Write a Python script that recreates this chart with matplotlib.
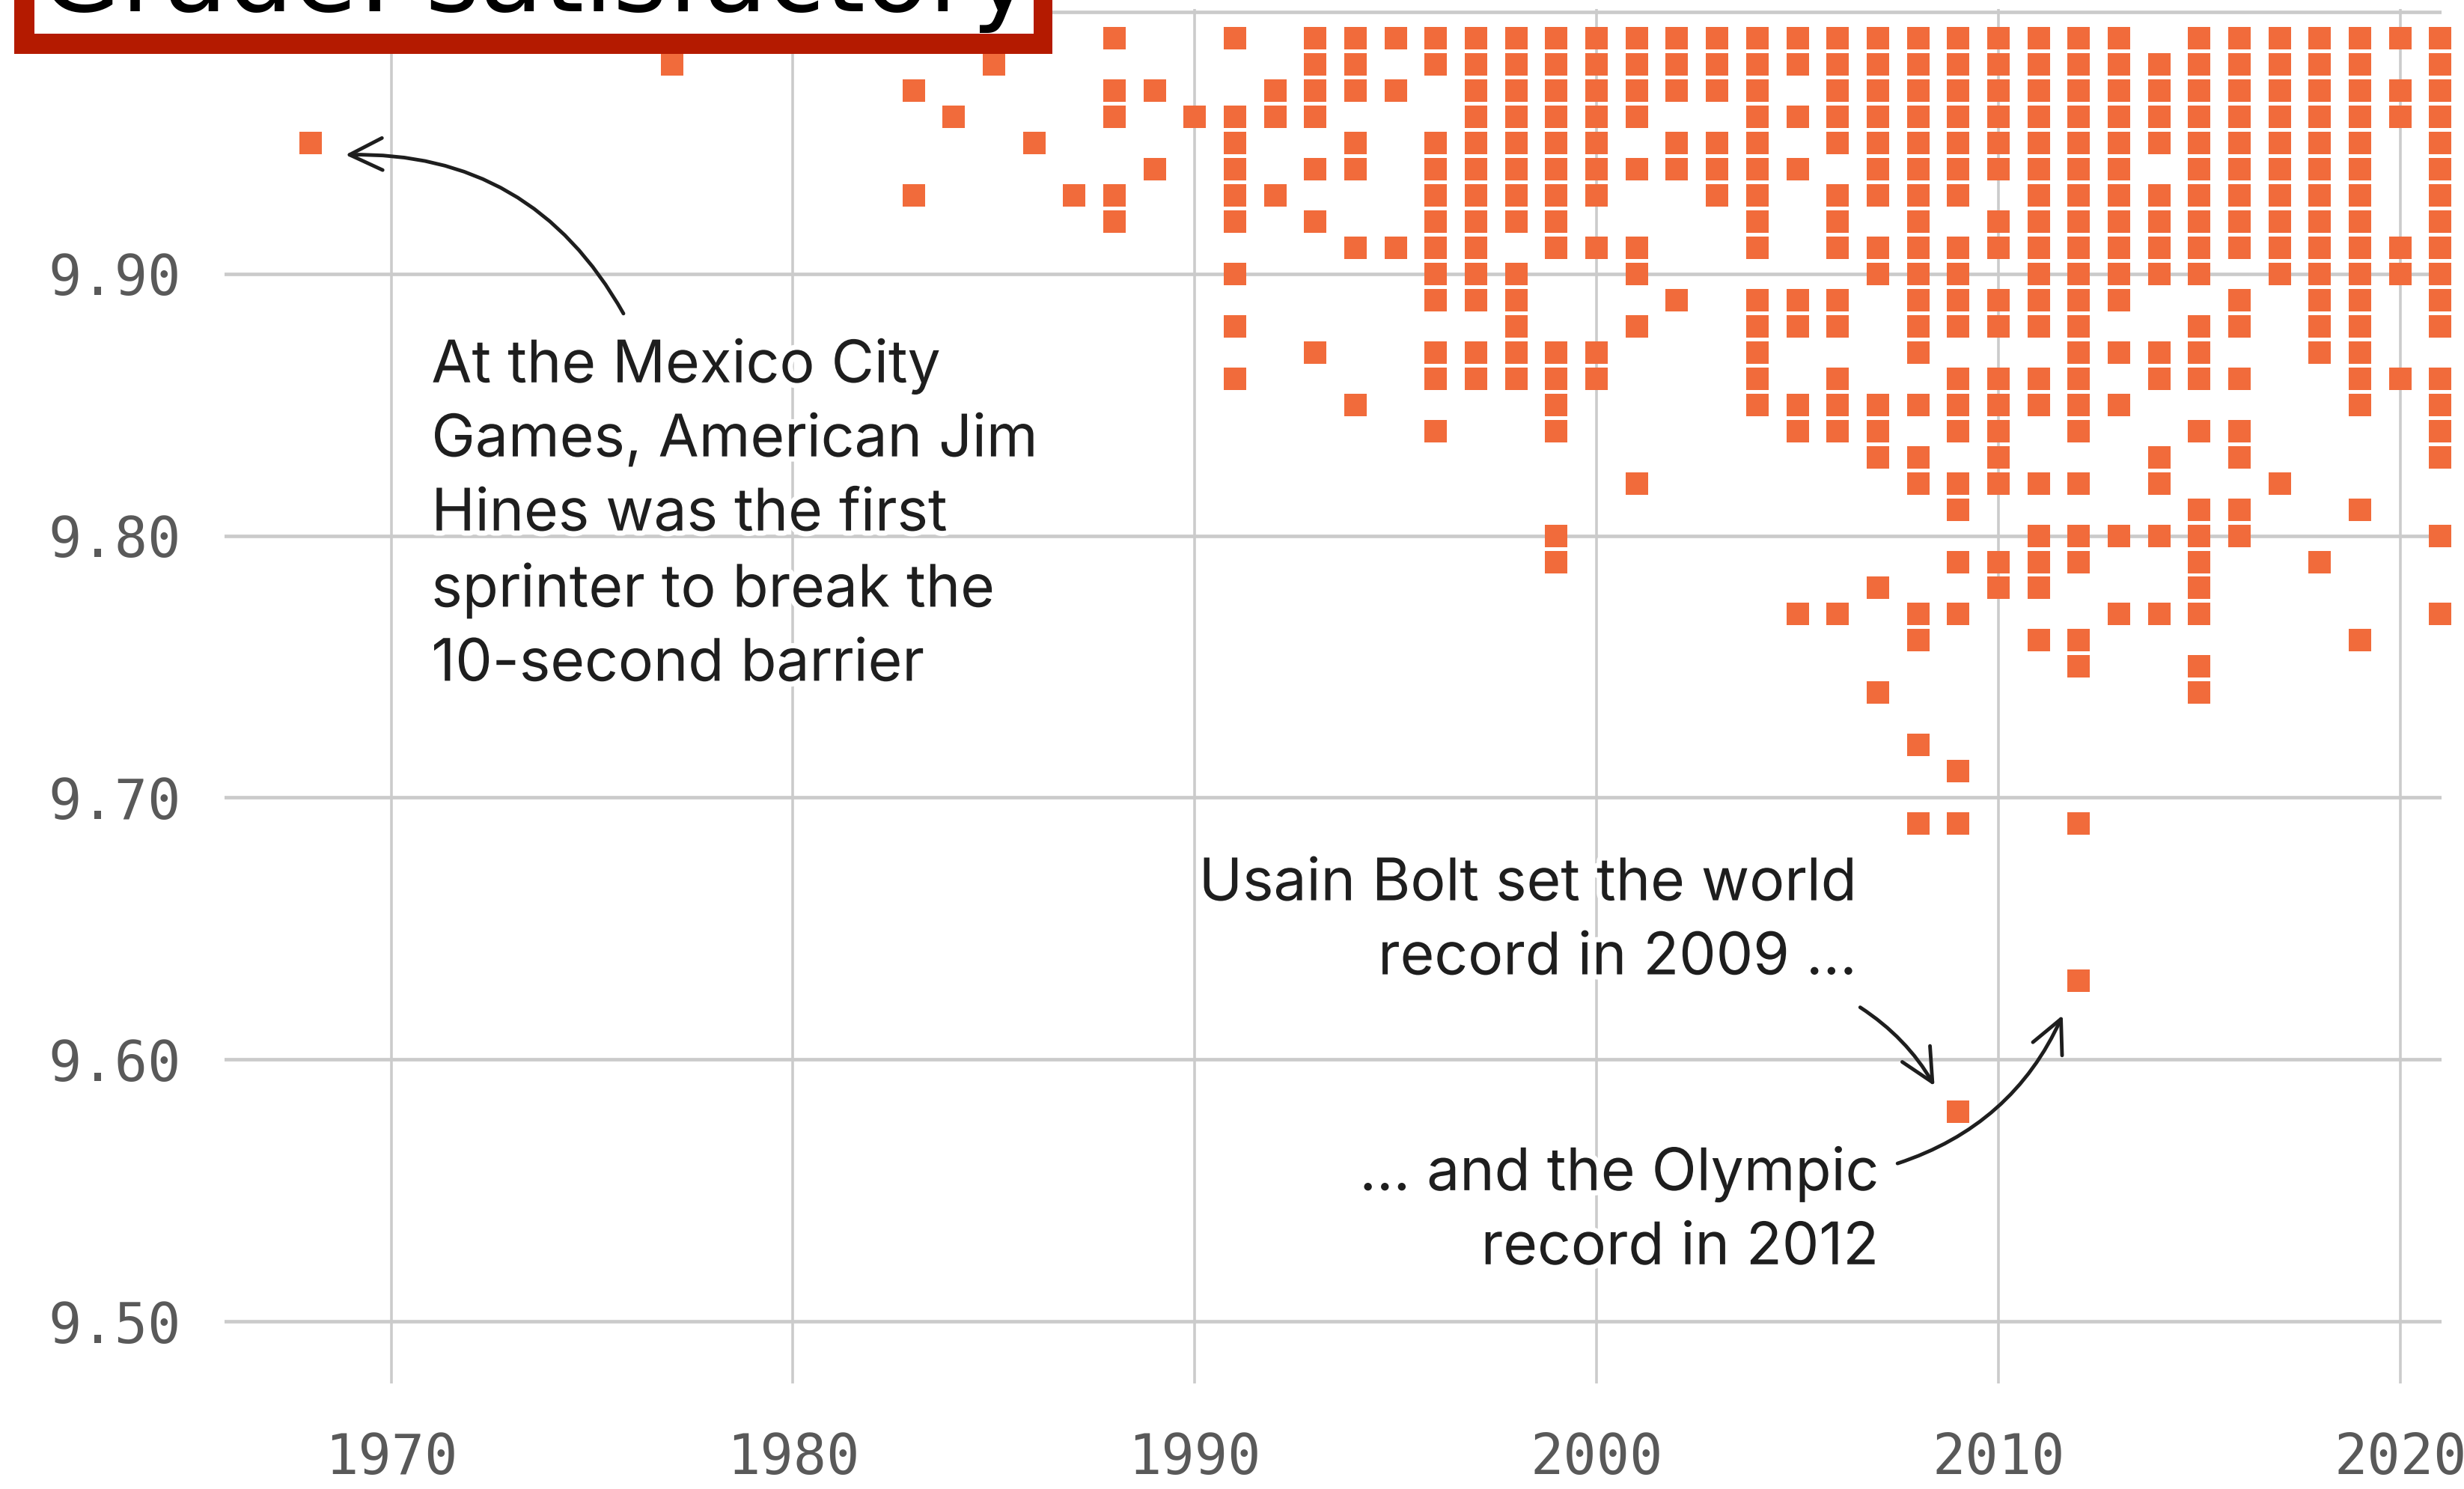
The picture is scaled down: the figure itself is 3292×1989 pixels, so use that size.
import matplotlib
matplotlib.use('Agg')
import matplotlib.pyplot as plt
import matplotlib.patheffects as pe
from matplotlib.patches import Rectangle

# sub-10 second 100 m times by year (seconds)
t1968 = [9.95]
t1977 = [9.98]
t1983 = [9.97, 9.93]
t1984 = [9.96]
t1985 = [9.98]
t1986 = [9.95]
t1987 = [9.93]
t1988 = [9.99, 9.97, 9.96, 9.93, 9.92]
t1989 = [9.97, 9.94]
t1990 = [9.96]
t1991 = [9.99, 9.96, 9.95, 9.94, 9.93, 9.92, 9.90, 9.88, 9.86]
t1992 = [9.97, 9.96, 9.93]
t1993 = [9.99, 9.98, 9.97, 9.96, 9.94, 9.92, 9.87]
t1994 = [9.99, 9.98, 9.97, 9.95, 9.94, 9.91, 9.85]
t1995 = [9.99, 9.97, 9.91]
t1996 = [9.99, 9.98, 9.95, 9.94, 9.93, 9.92, 9.91, 9.90, 9.89, 9.87, 9.86, 9.84]
t1997 = [9.99, 9.98, 9.97, 9.96, 9.95, 9.94, 9.93, 9.92, 9.91, 9.90, 9.89, 9.87, 9.86]
t1998 = [9.99, 9.98, 9.97, 9.96, 9.95, 9.94, 9.93, 9.92, 9.90, 9.89, 9.88, 9.87, 9.86]
t1999 = [9.99, 9.98, 9.97, 9.96, 9.95, 9.94, 9.93, 9.92, 9.91, 9.87, 9.86, 9.85, 9.84,
         9.80, 9.79]
t2000 = [9.99, 9.98, 9.97, 9.96, 9.95, 9.94, 9.93, 9.91, 9.87, 9.86]
t2001 = [9.99, 9.98, 9.97, 9.96, 9.94, 9.91, 9.90, 9.88, 9.82]
t2002 = [9.99, 9.98, 9.97, 9.95, 9.94, 9.89]
t2003 = [9.99, 9.98, 9.97, 9.95, 9.94, 9.93]
t2004 = [9.99, 9.98, 9.97, 9.96, 9.95, 9.94, 9.93, 9.92, 9.91, 9.89, 9.88, 9.87, 9.86,
         9.85]
t2005 = [9.99, 9.98, 9.96, 9.94, 9.89, 9.88, 9.85, 9.84, 9.77]
t2006 = [9.99, 9.98, 9.97, 9.96, 9.95, 9.93, 9.92, 9.91, 9.89, 9.88, 9.86, 9.85, 9.84,
         9.77]
t2007 = [9.99, 9.98, 9.97, 9.96, 9.95, 9.94, 9.93, 9.91, 9.90, 9.85, 9.84, 9.83, 9.78,
         9.74]
t2008 = [9.99, 9.98, 9.97, 9.96, 9.95, 9.94, 9.93, 9.92, 9.91, 9.90, 9.89, 9.88, 9.87,
         9.85, 9.83, 9.82, 9.77, 9.76, 9.72, 9.69]
t2009 = [9.99, 9.98, 9.97, 9.96, 9.95, 9.94, 9.93, 9.91, 9.90, 9.89, 9.88, 9.86, 9.85,
         9.84, 9.82, 9.81, 9.79, 9.77, 9.71, 9.69, 9.58]
t2010 = [9.99, 9.98, 9.97, 9.96, 9.95, 9.94, 9.92, 9.91, 9.89, 9.88, 9.86, 9.85, 9.84,
         9.83, 9.82, 9.79, 9.78]
t2011 = [9.99, 9.98, 9.97, 9.96, 9.95, 9.94, 9.93, 9.92, 9.91, 9.90, 9.89, 9.88, 9.86,
         9.85, 9.82, 9.80, 9.79, 9.78, 9.76]
t2012 = [9.99, 9.98, 9.97, 9.96, 9.95, 9.94, 9.93, 9.92, 9.91, 9.90, 9.89, 9.88, 9.87,
         9.86, 9.85, 9.84, 9.82, 9.80, 9.79, 9.76, 9.75, 9.69, 9.63]
t2013 = [9.99, 9.98, 9.97, 9.96, 9.95, 9.94, 9.93, 9.92, 9.91, 9.90, 9.89, 9.87, 9.85,
         9.80, 9.77]
t2014 = [9.98, 9.97, 9.96, 9.95, 9.93, 9.92, 9.91, 9.90, 9.87, 9.86, 9.83, 9.82, 9.80,
         9.77]
t2015 = [9.99, 9.98, 9.97, 9.96, 9.95, 9.94, 9.93, 9.92, 9.91, 9.90, 9.88, 9.87, 9.86,
         9.84, 9.81, 9.80, 9.79, 9.78, 9.77, 9.75, 9.74]
t2016 = [9.99, 9.98, 9.97, 9.96, 9.95, 9.94, 9.93, 9.92, 9.91, 9.89, 9.88, 9.86, 9.84,
         9.83, 9.81, 9.80]
t2017 = [9.99, 9.98, 9.97, 9.96, 9.95, 9.94, 9.93, 9.92, 9.91, 9.90, 9.82]
t2018 = [9.99, 9.98, 9.97, 9.96, 9.95, 9.94, 9.93, 9.92, 9.91, 9.90, 9.89, 9.88, 9.87,
         9.79]
t2019 = [9.99, 9.98, 9.97, 9.96, 9.95, 9.94, 9.93, 9.92, 9.91, 9.90, 9.89, 9.88, 9.87,
         9.86, 9.85, 9.81, 9.76]
t2020 = [9.99, 9.97, 9.96, 9.91, 9.90, 9.86]
t2021 = [9.99, 9.98, 9.97, 9.96, 9.95, 9.94, 9.93, 9.92, 9.91, 9.90, 9.89, 9.88, 9.86,
         9.85, 9.84, 9.83, 9.80, 9.77]

years = [1968, 1977, 1983, 1984, 1985, 1986, 1987, 1988, 1989, 1990, 1991, 1992, 1993,
         1994, 1995, 1996, 1997, 1998, 1999, 2000, 2001, 2002, 2003, 2004, 2005, 2006,
         2007, 2008, 2009, 2010, 2011, 2012, 2013, 2014, 2015, 2016, 2017, 2018, 2019,
         2020, 2021]
times = [t1968, t1977, t1983, t1984, t1985, t1986, t1987, t1988, t1989, t1990, t1991,
         t1992, t1993, t1994, t1995, t1996, t1997, t1998, t1999, t2000, t2001, t2002,
         t2003, t2004, t2005, t2006, t2007, t2008, t2009, t2010, t2011, t2012, t2013,
         t2014, t2015, t2016, t2017, t2018, t2019, t2020, t2021]

x_ticks = [1970, 1980, 1990, 2000, 2010, 2020]
y_ticks = [9.50, 9.60, 9.70, 9.80, 9.90, 10.00]
y_labels = ['9.50', '9.60', '9.70', '9.80', '9.90', '']

ORANGE = '#F16B3B'
GRID = '#CBCBCB'
INK = '#1E1E1E'
TICK = '#595959'

fig = plt.figure(figsize=(32.92, 19.89), dpi=100)
ax = fig.add_axes([0.0911, 0.0709, 0.8998, 0.9229])

xs, ys = [], []
for yr, tt in zip(years, times):
    xs += [yr] * len(tt)
    ys += tt
ax.plot(xs, ys, 's', ms=21.5, mew=0, color=ORANGE, clip_on=False, zorder=3)

ax.set_xlim(1965.85, 2021.03)
ax.set_ylim(9.4763, 10.001)
ax.set_xticks(x_ticks)
ax.set_yticks(y_ticks)
ax.set_yticklabels(y_labels)
for s in ax.spines.values():
    s.set_visible(False)
ax.tick_params(length=0, labelsize=53, labelcolor=TICK)
ax.tick_params(axis='y', pad=42)
ax.tick_params(axis='x', pad=46)
for lab in ax.get_xticklabels() + ax.get_yticklabels():
    lab.set_fontfamily('DejaVu Sans Mono')

for yv in y_ticks:
    ax.axhline(yv, color=GRID, lw=3.4, zorder=1)
for xv in x_ticks:
    ax.axvline(xv, color=GRID, lw=2.6, zorder=1)

# multi-line notes: the y given is the baseline of the last line
halo = [pe.withStroke(linewidth=10, foreground='white')]
note = dict(fontsize=56.5, color=INK, family=['Inter', 'DejaVu Sans'],
            linespacing=1.43, va='baseline', zorder=5, path_effects=halo)

ax.text(1971.0, 9.7446,
        'At the Mexico City\nGames, American Jim\nHines was the first\n'
        'sprinter to break the\n10-second barrier', ha='left', **note)
ax.text(2006.47, 9.6325, 'Usain Bolt set the world\nrecord in 2009 ...',
        ha='right', **note)
ax.text(2007.02, 9.5218, '... and the Olympic\nrecord in 2012', ha='right', **note)

arrow = dict(arrowstyle='->,head_length=0.45,head_width=0.22', color=INK, lw=3.5,
             shrinkA=0, shrinkB=0, mutation_scale=70)
ax.annotate('', xy=(1968.86, 9.9454), xytext=(1975.78, 9.8848),
            arrowprops=dict(connectionstyle='arc3,rad=0.3', **arrow), zorder=6)
ax.annotate('', xy=(2008.41, 9.5899), xytext=(2006.56, 9.6199),
            arrowprops=dict(connectionstyle='arc3,rad=-0.12', **arrow), zorder=6)
ax.annotate('', xy=(2011.60, 9.6169), xytext=(2007.49, 9.5603),
            arrowprops=dict(connectionstyle='arc3,rad=0.22', **arrow), zorder=6)

# red framed title box, cut off by the top edge of the image
fig.add_artist(Rectangle((0.0058, 0.9640), 0.4213, 0.06, transform=fig.transFigure,
                         facecolor='#B41A00', edgecolor='none', zorder=10))
fig.add_artist(Rectangle((0.0140, 0.9774), 0.4055, 0.06, transform=fig.transFigure,
                         facecolor='white', edgecolor='none', zorder=11))
fig.text(0.0165, 0.9925, 'Grade: satisfactory', fontsize=100, color='black',
         family='DejaVu Sans', ha='left', va='baseline', zorder=12)

fig.savefig('out.png', dpi=100, facecolor='white')
